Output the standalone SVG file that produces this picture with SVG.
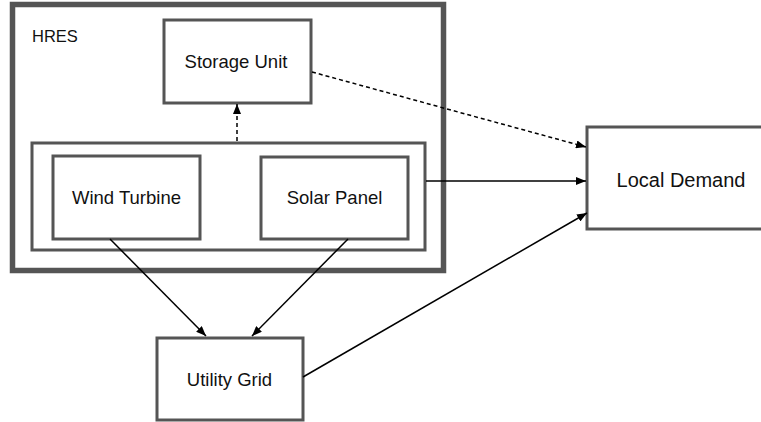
<svg xmlns="http://www.w3.org/2000/svg" width="761" height="422" viewBox="0 0 761 422">
<style>
.box{fill:#fff;stroke:#555;stroke-width:3}
.outer{fill:#fff;stroke:#555;stroke-width:5.5}
.lbl{font-family:"Liberation Sans",Arial,sans-serif;font-size:18.5px;fill:#111;text-anchor:middle}
.edge{fill:none;stroke:#000;stroke-width:1.5}
.dash{stroke-dasharray:4 3}
</style>
<defs>
<marker id="ah" viewBox="0 0 10 8" refX="10" refY="4" markerWidth="10" markerHeight="8" markerUnits="userSpaceOnUse" orient="auto">
<path d="M0,0 L10,4 L0,8 Z" fill="#000"/>
</marker>
</defs>
<rect width="761" height="422" fill="#fff"/>
<g id="hres">
<rect class="outer" x="12.5" y="4.5" width="431" height="266"/>
<text class="lbl" x="32" y="42" style="text-anchor:start;font-size:16.5px">HRES</text>
</g>
<g id="generation">
<rect class="box" x="32" y="143" width="393" height="107"/>
</g>
<g id="storage">
<rect class="box" x="164" y="20" width="147" height="83"/>
<text class="lbl" x="236" y="68">Storage Unit</text>
</g>
<g id="wind">
<rect class="box" x="53" y="156" width="147" height="83"/>
<text class="lbl" x="126.5" y="204">Wind Turbine</text>
</g>
<g id="solar">
<rect class="box" x="261" y="157" width="147" height="82"/>
<text class="lbl" x="334.5" y="204">Solar Panel</text>
</g>
<g id="demand">
<rect class="box" x="587" y="127" width="190" height="102"/>
<text class="lbl" x="681" y="187" style="font-size:20px">Local Demand</text>
</g>
<g id="grid">
<rect class="box" x="157" y="338" width="146" height="82"/>
<text class="lbl" x="229.5" y="386">Utility Grid</text>
</g>
<g id="connectors">
<line class="edge dash" x1="237" y1="141" x2="237" y2="104" marker-end="url(#ah)"/>
<line class="edge dash" x1="312" y1="72" x2="586" y2="147" marker-end="url(#ah)"/>
<line class="edge" x1="426" y1="181" x2="586" y2="181" marker-end="url(#ah)"/>
<line class="edge" x1="110" y1="239" x2="206" y2="336" marker-end="url(#ah)"/>
<line class="edge" x1="348" y1="239" x2="252" y2="336" marker-end="url(#ah)"/>
<line class="edge" x1="303" y1="377" x2="587" y2="213" marker-end="url(#ah)"/>
</g>
</svg>
